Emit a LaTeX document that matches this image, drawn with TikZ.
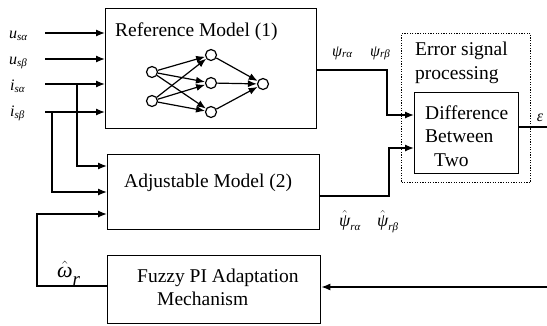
\documentclass[tikz,border=0pt]{standalone}
\usepackage{fontspec}
\setmainfont{Liberation Serif}
\usetikzlibrary{arrows.meta}
% lowered small subscript that follows no LaTeX size preset
\newcommand{\lowsub}[2][-2pt]{\raisebox{#1}{\fontsize{11}{11}\selectfont\itshape #2}}

\begin{document}
\begin{tikzpicture}[x=1pt,y=-1pt,
  box/.style={draw, line width=1.3pt, inner sep=0pt, anchor=north west},
  wire/.style={line width=1.3pt},
  arr/.style={wire, -{Latex[length=9pt,width=7pt]}},
  lbl/.style={inner sep=0pt, font=\fontsize{19.5}{22}\selectfont},
  sig/.style={inner sep=0pt, font=\fontsize{16}{18}\selectfont\itshape},
  neuron/.style={circle, draw, line width=1.2pt, minimum size=11pt, inner sep=0pt, fill=white},
  syn/.style={line width=1.2pt, -{Latex[length=9pt,width=7pt]}}
]
\useasboundingbox (0,0) rectangle (547,325);

% blocks
\node[box, minimum width=211pt, minimum height=120pt] (ref) at (105,8) {};
\node[box, minimum width=212pt, minimum height=75pt] (adj) at (107,154) {};
\node[box, minimum width=213pt, minimum height=68pt] (fuzzy) at (107,255) {};
\node[box, minimum width=104pt, minimum height=81pt] (diff) at (414,92) {};
\node[draw, line width=1.2pt, dash pattern=on 1.2pt off 1.4pt, inner sep=0pt,
      anchor=north west, minimum width=129pt, minimum height=149pt] (err) at (401,33) {};

% block texts
\node[lbl, anchor=base west] (reftxt) at (115,36) {Reference Model (1)};
\node[lbl, anchor=base west] (adjtxt) at (124,187) {Adjustable Model (2)};
\node[lbl, anchor=base west] (fuzzytxt1) at (137,282) {Fuzzy PI Adaptation};
\node[lbl, anchor=base west] (fuzzytxt2) at (157,305) {Mechanism};
\node[lbl, anchor=base west] (errtxt1) at (415,55) {Error signal};
\node[lbl, anchor=base west] (errtxt2) at (415,79) {processing};
\node[lbl, anchor=base west] (difftxt1) at (425,119) {Difference};
\node[lbl, anchor=base west] (difftxt2) at (425,142) {Between};
\node[lbl, anchor=base west] (difftxt3) at (434,166) {Two};

% neural network inside the reference model
\node[neuron] (n1) at (152,72) {};
\node[neuron] (n2) at (152,101) {};
\node[neuron] (h1) at (211,55) {};
\node[neuron] (h2) at (211,83) {};
\node[neuron] (h3) at (211,112) {};
\node[neuron] (o1) at (263,84) {};
\foreach \i in {n1,n2} \foreach \h in {h1,h2,h3} \draw[syn] (\i) -- (\h);
\foreach \h in {h1,h2,h3} \draw[syn] (\h) -- (o1);

% stator inputs
\coordinate (usa) at (45,33);
\coordinate (usb) at (45,59);
\coordinate (isa) at (45,84);
\coordinate (isb) at (45,112);
\draw[arr] (usa) -- (usa -| ref.west);
\draw[arr] (usb) -- (usb -| ref.west);
\draw[arr] (isa) -- (isa -| ref.west);
\draw[arr] (isb) -- (isb -| ref.west);
\node[sig, anchor=base west] (usal) at (9,38) {u\lowsub{sα}};
\node[sig, anchor=base west] (usbl) at (9,64) {u\lowsub{sβ}};
\node[sig, anchor=base west] (isal) at (10,90) {i\lowsub{sα}};
\node[sig, anchor=base west] (isbl) at (10,116) {i\lowsub{sβ}};

% current branches into the adjustable model
\coordinate (ja) at (77,84);
\coordinate (jb) at (52,112);
\coordinate (ya) at (0,166);
\coordinate (yb) at (0,192);
\draw[arr] (ja) |- (adj.west |- ya);
\draw[arr] (jb) |- (adj.west |- yb);

% estimated speed fed back to the adjustable model
\coordinate (wl) at (37,286);
\coordinate (yw) at (0,214);
\draw[arr] (fuzzy.west |- wl) -- (wl) |- (adj.west |- yw);
\node[anchor=base west, inner sep=0pt] (wlbl) at (57,277)
  {\fontsize{22}{24}\selectfont$\hat{\hbox{\itshape ω}}$\raisebox{-8pt}{\fontsize{19}{19}\selectfont\itshape r}};

% flux outputs to the error block
\coordinate (yref) at (0,70);
\coordinate (kref) at (387,70);
\coordinate (yadj) at (0,196);
\coordinate (kadj) at (389,196);
\draw[arr] (ref.east |- yref) -- (kref) |- (diff.west |- 0,115);
\draw[arr] (adj.east |- yadj) -- (kadj) |- (diff.west |- 0,148);
\node[sig, anchor=base west] (psia) at (332,56) {ψ\lowsub[-1pt]{rα}};
\node[sig, anchor=base west] (psib) at (370,56) {ψ\lowsub[-1pt]{rβ}};
\node[anchor=base west, inner sep=0pt] (hpsia) at (339,226)
  {\fontsize{18}{20}\selectfont$\hat{\hbox{\itshape ψ}}$\lowsub[-4pt]{rα}};
\node[anchor=base west, inner sep=0pt] (hpsib) at (377,226)
  {\fontsize{18}{20}\selectfont$\hat{\hbox{\itshape ψ}}$\lowsub[-4pt]{rβ}};

% error output and return path to the adaptation mechanism
\coordinate (eout) at (547,127);
\draw[wire] (diff.east |- eout) -- (eout);
\node[sig, anchor=center] (epsl) at (540,118) {ε};
\coordinate (fbin) at (547,287);
\draw[arr] (fbin) -- (fbin -| fuzzy.east);
\end{tikzpicture}
\end{document}
